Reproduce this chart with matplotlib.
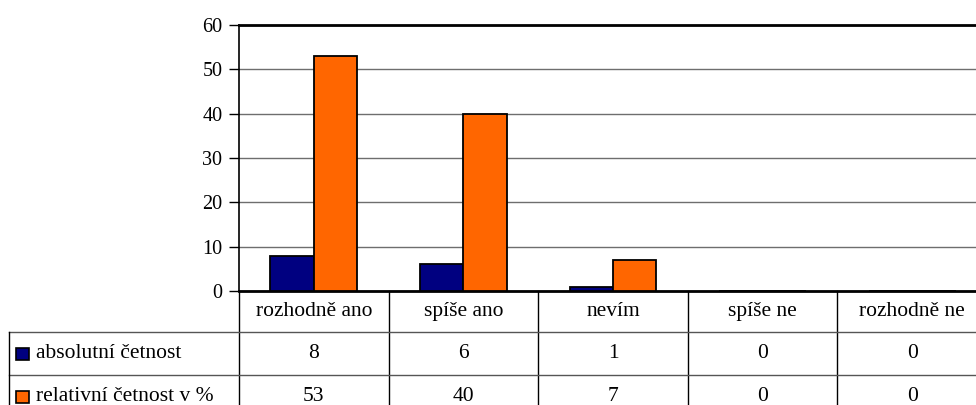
import matplotlib
matplotlib.use("Agg")
import matplotlib.pyplot as plt
from matplotlib.patches import Rectangle

plt.rcParams['font.family'] = ['Liberation Serif', 'DejaVu Serif']

categories = ["rozhodně ano", "spíše ano", "nevím", "spíše ne", "rozhodně ne"]
series_names = ["absolutní četnost", "relativní četnost v %"]
absolute = [8, 6, 1, 0, 0]
relative = [53, 40, 7, 0, 0]
series_values = [absolute, relative]
series_colors = ["#000080", "#FF6600"]
y_ticks = [0, 10, 20, 30, 40, 50, 60]

W, H = 976, 405
fig = plt.figure(figsize=(W / 100, H / 100), dpi=100)

# pixel geometry of the plot area
x_left, x_right = 239, 987
y_top, y_bottom = 25, 291
ax = fig.add_axes([x_left / W, 1 - y_bottom / H, (x_right - x_left) / W, (y_bottom - y_top) / H])

n = len(categories)
bw = 0.29
xs = list(range(n))
for k, (vals, col) in enumerate(zip(series_values, series_colors)):
    offs = -bw / 2 if k == 0 else bw / 2
    ax.bar([x + offs for x in xs], vals, width=bw, color=col, edgecolor="black",
           linewidth=1.3, zorder=3)

ax.set_xlim(-0.5, n - 0.5)
ax.set_ylim(0, 60)
ax.set_yticks(y_ticks)
ax.set_yticklabels([str(t) for t in y_ticks], fontsize=14.5)
ax.set_xticks([])
ax.yaxis.grid(True, color="#6e6e6e", linewidth=1.0, zorder=0)
ax.tick_params(axis="y", direction="out", length=7, width=1.0, pad=5, colors="black")
for side in ("left", "bottom", "top"):
    ax.spines[side].set_color("black")
ax.spines["left"].set_linewidth(1.2)
ax.spines["bottom"].set_linewidth(2.0)
ax.spines["top"].set_linewidth(2.0)
ax.spines["right"].set_visible(False)

# data table beneath the plot
t_left, row_h = 9, [41, 43, 43]
t_top = y_bottom
t_bottom = t_top + sum(row_h)
cat_w = (x_right - x_left) / n
lab_w = (x_left - t_left) / cat_w
tab = fig.add_axes([t_left / W, 1 - t_bottom / H, (x_right - t_left) / W, (t_bottom - t_top) / H])
tab.set_xlim(-0.5 - lab_w, n - 0.5)
tab.set_ylim(sum(row_h), 0)
tab.axis("off")

lc = dict(color="black", linewidth=1.0, clip_on=False)
y0 = 0
bounds = [y0]
for h in row_h:
    y0 += h
    bounds.append(y0)
# vertical lines between categories
for b in range(n + 1):
    tab.plot([b - 0.5, b - 0.5], [0, bounds[-1]], **lc)
# horizontal row separators (label column included)
for yb in bounds[1:3]:
    tab.plot([-0.5 - lab_w, n - 0.5], [yb, yb], color="#555555", linewidth=1.0, clip_on=False)
tab.plot([-0.5 - lab_w, -0.5 - lab_w], [bounds[1], bounds[-1]], **lc)

fs = 15.5
for i, c in enumerate(categories):
    tab.text(i, (bounds[0] + bounds[1]) / 2, c, ha="center", va="center", fontsize=fs)

for r, (name, vals, col) in enumerate(zip(series_names, series_values, series_colors)):
    yc = (bounds[r + 1] + bounds[r + 2]) / 2
    kx = -0.5 - lab_w + 7 / cat_w
    tab.add_patch(Rectangle((kx, yc - 6), 13 / cat_w, 12, facecolor=col, edgecolor="black",
                            linewidth=1.2, clip_on=False))
    tab.text(kx + 20 / cat_w, yc, name, ha="left", va="center", fontsize=fs)
    for i, v in enumerate(vals):
        tab.text(i, yc, str(v), ha="center", va="center", fontsize=fs)

fig.savefig("out.png", dpi=100)
